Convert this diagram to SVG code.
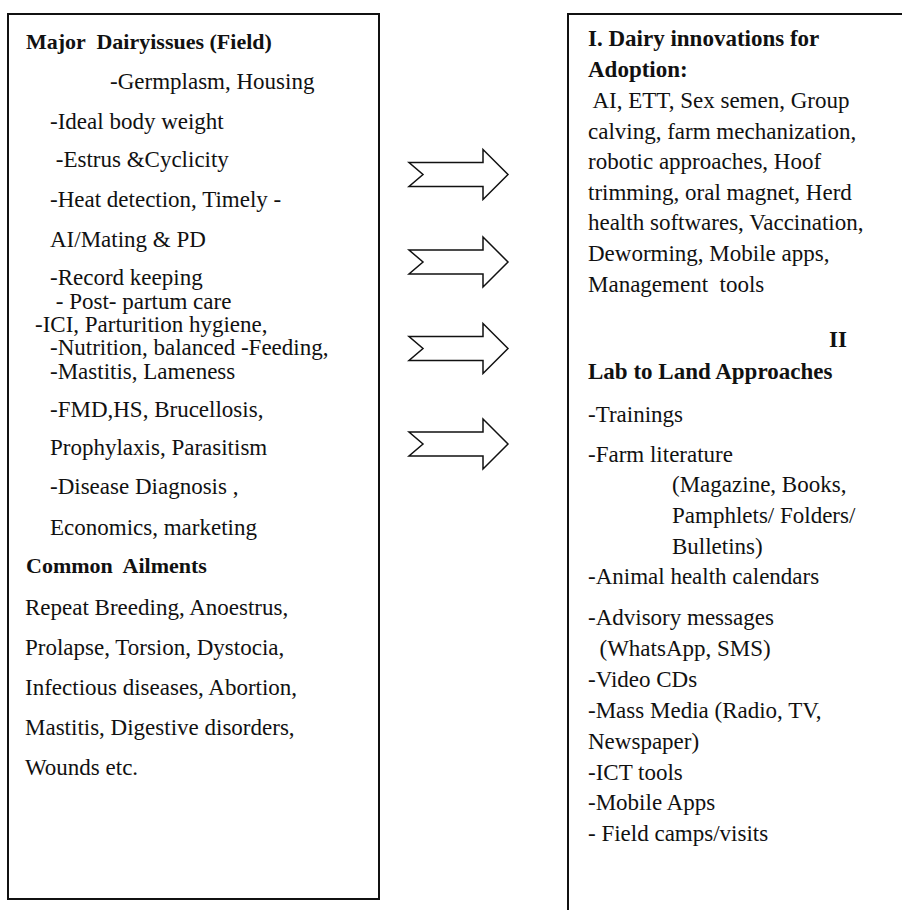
<svg xmlns="http://www.w3.org/2000/svg" width="902" height="910" viewBox="0 0 902 910">
  <style>
    .box { fill: #fff; stroke: #111; stroke-width: 2; }
    .arrow { fill: #fff; stroke: #111; stroke-width: 1.5; stroke-linejoin: miter; }
    text { font-family: "Liberation Serif", "Times New Roman", serif; font-size: 23px; fill: #111; white-space: pre; }
    .b { font-weight: bold; }
    .t { font-size: 22px; }
  </style>
  <defs>
    <!-- notched block arrow, centred on y=0 -->
    <polygon id="blockArrow" class="arrow" points="409,-12 483,-12 483,-25 508,0 483,25 483,12 409,12 423,0"/>
  </defs>
  <rect width="902" height="910" fill="#fff"/>

  <g id="dairy-issues">
    <rect class="box" x="8" y="14" width="371" height="885"/>
    <text class="b t" x="26" y="49">Major  Dairyissues (Field)</text>
    <text x="110" y="89">-Germplasm, Housing</text>
    <text x="50" y="129">-Ideal body weight</text>
    <text x="50" y="167"> -Estrus &amp;Cyclicity</text>
    <text x="50" y="207">-Heat detection, Timely -</text>
    <text x="50" y="247">AI/Mating &amp; PD</text>
    <text x="50" y="285">-Record keeping</text>
    <text x="50" y="309"> - Post- partum care</text>
    <text x="35" y="332">-ICI, Parturition hygiene,</text>
    <text x="50" y="355">-Nutrition, balanced -Feeding,</text>
    <text x="50" y="379">-Mastitis, Lameness</text>
    <text x="50" y="417">-FMD,HS, Brucellosis,</text>
    <text x="50" y="455">Prophylaxis, Parasitism</text>
    <text x="50" y="494">-Disease Diagnosis ,</text>
    <text x="50" y="535">Economics, marketing</text>
    <text class="b t" x="26" y="573">Common  Ailments</text>
    <text x="25" y="615">Repeat Breeding, Anoestrus,</text>
    <text x="25" y="655">Prolapse, Torsion, Dystocia,</text>
    <text x="25" y="695">Infectious diseases, Abortion,</text>
    <text x="25" y="735">Mastitis, Digestive disorders,</text>
    <text x="25" y="775">Wounds etc.</text>
  </g>

  <g id="connectors">
    <use href="#blockArrow" y="174.5"/>
    <use href="#blockArrow" y="262"/>
    <use href="#blockArrow" y="348.5"/>
    <use href="#blockArrow" y="444"/>
  </g>

  <g id="innovations">
    <rect class="box" x="568" y="14" width="400" height="1000"/>
    <text class="b" x="588" y="46">I. Dairy innovations for</text>
    <text class="b" x="588" y="77">Adoption:</text>
    <text x="588" y="108"> AI, ETT, Sex semen, Group</text>
    <text x="588" y="139">calving, farm mechanization,</text>
    <text x="588" y="169">robotic approaches, Hoof</text>
    <text x="588" y="200">trimming, oral magnet, Herd</text>
    <text x="588" y="230">health softwares, Vaccination,</text>
    <text x="588" y="261">Deworming, Mobile apps,</text>
    <text x="588" y="292">Management  tools</text>
    <text class="b" x="847" y="347" text-anchor="end">II</text>
    <text class="b" x="588" y="379">Lab to Land Approaches</text>
    <text x="588" y="422">-Trainings</text>
    <text x="588" y="462">-Farm literature</text>
    <text x="672" y="492">(Magazine, Books,</text>
    <text x="672" y="523">Pamphlets/ Folders/</text>
    <text x="672" y="554">Bulletins)</text>
    <text x="588" y="584">-Animal health calendars</text>
    <text x="588" y="625">-Advisory messages</text>
    <text x="588" y="656">  (WhatsApp, SMS)</text>
    <text x="588" y="687">-Video CDs</text>
    <text x="588" y="718">-Mass Media (Radio, TV,</text>
    <text x="588" y="749">Newspaper)</text>
    <text x="588" y="780">-ICT tools</text>
    <text x="588" y="810">-Mobile Apps</text>
    <text x="588" y="841">- Field camps/visits</text>
  </g>
</svg>
